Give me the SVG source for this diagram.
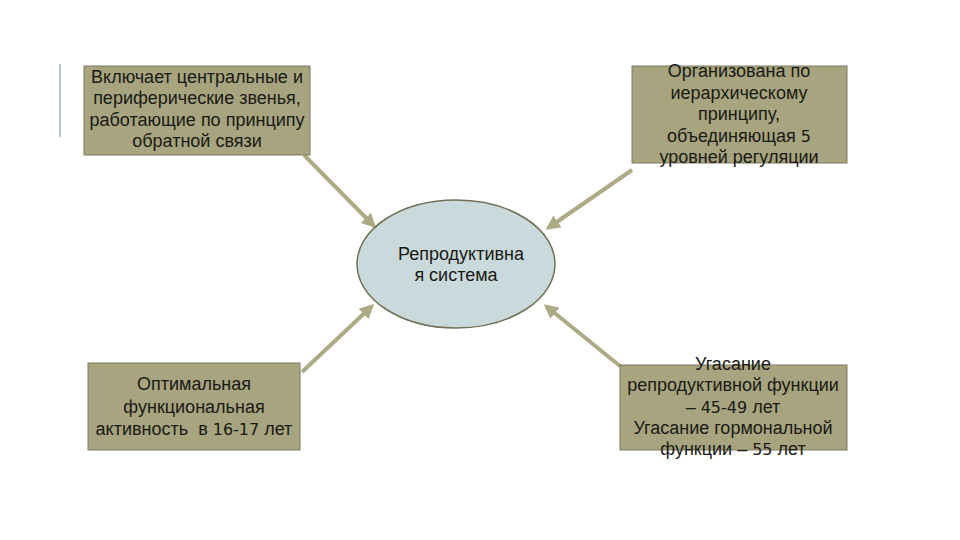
<svg xmlns="http://www.w3.org/2000/svg" width="960" height="540" viewBox="0 0 960 540">
<defs>
<style>
.box{fill:#a7a47f;stroke:#7d7b62;stroke-width:1}
.t{font-family:"Liberation Sans",Arial,sans-serif;font-size:18px;fill:#1a1a14;text-anchor:middle}
.d{font-family:"DejaVu Sans",Verdana,sans-serif;font-size:16px}
.c{stroke:#aeaa85;stroke-width:4;fill:none;marker-end:url(#ah)}
</style>
<marker id="ah" viewBox="0 0 10 10" refX="8" refY="5" markerWidth="3.6" markerHeight="3.6" orient="auto" markerUnits="strokeWidth">
<path d="M0,0 L10,5 L0,10 z" fill="#aeaa85"/>
</marker>
</defs>
<rect width="960" height="540" fill="#ffffff"/>
<line x1="60" y1="64" x2="60" y2="137" stroke="#b7c9cb" stroke-width="2"/>
<g id="connectors">
<line class="c" x1="304" y1="155" x2="374" y2="226"/>
<line class="c" x1="632" y1="170" x2="548" y2="228"/>
<line class="c" x1="302" y1="372" x2="372" y2="306"/>
<line class="c" x1="620" y1="366" x2="546" y2="306"/>
</g>
<g id="n1">
<rect class="box" x="84" y="66" width="226" height="89"/>
<text class="t" x="197" y="83">Включает центральные и</text>
<text class="t" x="197" y="104.3">периферические звенья,</text>
<text class="t" x="197" y="125.7">работающие по принципу</text>
<text class="t" x="197" y="147">обратной связи</text>
</g>
<g id="n2">
<rect class="box" x="632" y="66" width="215" height="97"/>
<text class="t" x="739" y="77">Организована по</text>
<text class="t" x="739" y="98.5">иерархическому</text>
<text class="t" x="739" y="120">принципу,</text>
<text class="t" x="739" y="141.5">объединяющая <tspan class="d">5</tspan></text>
<text class="t" x="739" y="163">уровней регуляции</text>
</g>
<g id="center">
<ellipse cx="456" cy="264" rx="99" ry="64" fill="#c9d9dc" stroke="#707058" stroke-width="1.5"/>
<text class="t" x="461" y="260">Репродуктивна</text>
<text class="t" x="456" y="281">я система</text>
</g>
<g id="n3">
<rect class="box" x="88" y="363" width="212" height="87"/>
<text class="t" x="194" y="390">Оптимальная</text>
<text class="t" x="194" y="412.5">функциональная</text>
<text class="t" x="194" y="435" style="white-space:pre">активность  в <tspan class="d">16-17</tspan> лет</text>
</g>
<g id="n4">
<rect class="box" x="620" y="365" width="227" height="85"/>
<text class="t" x="733" y="370">Угасание</text>
<text class="t" x="733" y="391.3">репродуктивной функции</text>
<text class="t" x="733" y="412.5">– <tspan class="d">45-49</tspan> лет</text>
<text class="t" x="733" y="433.8">Угасание гормональной</text>
<text class="t" x="733" y="455">функции – <tspan class="d">55</tspan> лет</text>
</g>
</svg>
